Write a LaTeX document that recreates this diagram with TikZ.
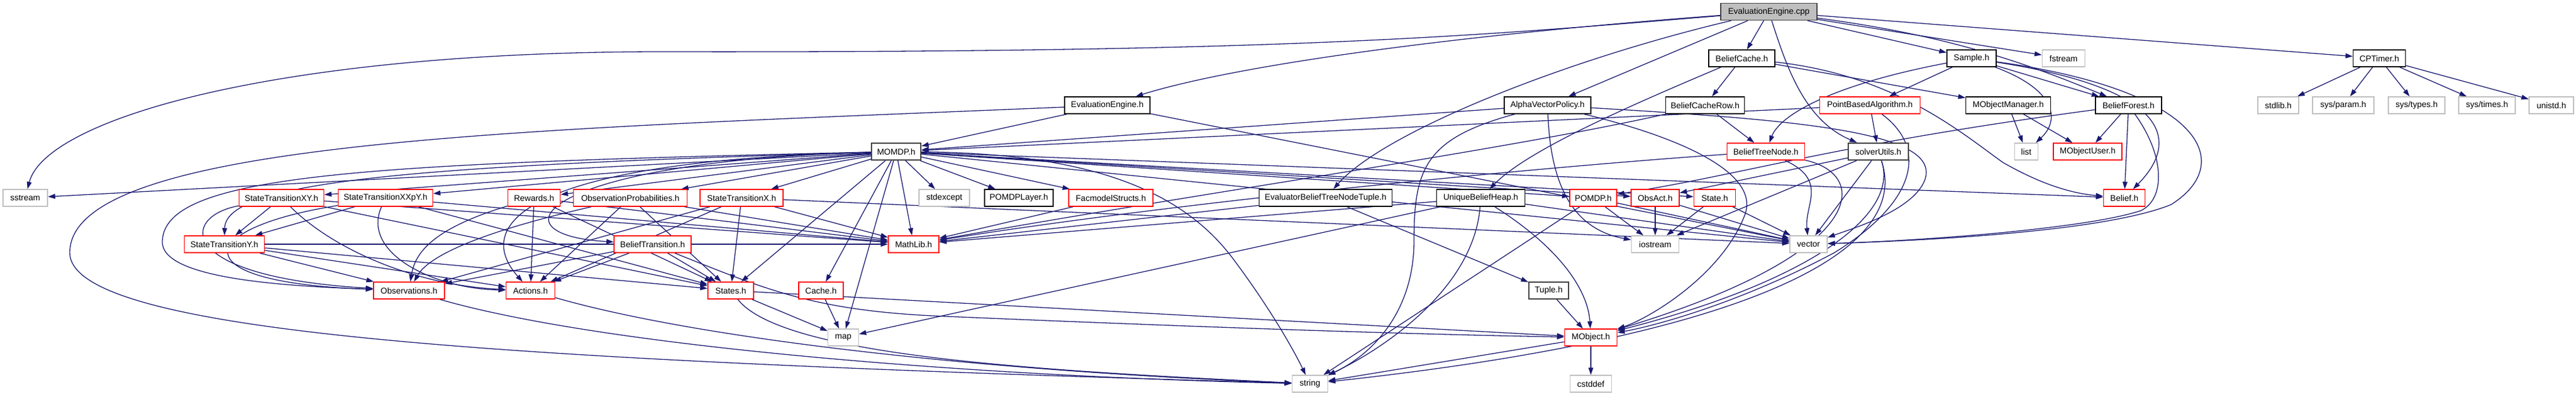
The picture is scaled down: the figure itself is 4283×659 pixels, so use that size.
\documentclass[tikz,border=0pt]{standalone}
\usepackage{fontspec}
\setmainfont{Liberation Sans}
\usetikzlibrary{arrows.meta,backgrounds}
\definecolor{edgec}{HTML}{191970}
\definecolor{sysg}{HTML}{BFBFBF}
\definecolor{darkb}{HTML}{404040}
\definecolor{redb}{HTML}{FF0000}
\begin{document}
\begin{tikzpicture}[x=1pt,y=-1pt,
  nd/.style={draw, rectangle, minimum height=28pt, inner sep=2pt, fill=white,
    font=\fontsize{14}{16}\selectfont, line width=1.5pt},
  blk/.style={nd, draw=black},
  tr/.style={nd, draw=redb},
  sysn/.style={nd, draw=sysg},
  dk/.style={nd, draw=darkb, line width=2.2pt},
  cur/.style={nd, draw=darkb, fill=sysg},
  ed/.style={draw=edgec, line width=1.3pt, -{Triangle[length=12pt,width=8pt]}}]
\useasboundingbox (0,0) rectangle (4283,659);
% row 0
\node[cur, minimum width=160pt] (cpp) at (2941,19.5) {EvaluationEngine.cpp};
% row 1
\node[blk, minimum width=110pt] (bcache) at (2896,97) {BeliefCache.h};
\node[blk, minimum width=82pt] (sample) at (3278,97) {Sample.h};
\node[sysn, minimum width=71pt] (fstream) at (3431,97) {fstream};
\node[blk, minimum width=87pt] (cptimer) at (3956,97) {CPTimer.h};
% row 2
\node[blk, minimum width=142pt] (eeh) at (1841,175) {EvaluationEngine.h};
\node[blk, minimum width=144pt] (avp) at (2573,175) {AlphaVectorPolicy.h};
\node[blk, minimum width=131pt] (bcr) at (2835,175) {BeliefCacheRow.h};
\node[tr, minimum width=167pt] (pba) at (3109,175) {PointBasedAlgorithm.h};
\node[blk, minimum width=141pt] (mom) at (3339,175) {MObjectManager.h};
\node[blk, minimum width=110pt] (bf) at (3539,175) {BeliefForest.h};
\node[sysn, minimum width=68pt] (stdlib) at (3788,175) {stdlib.h};
\node[sysn, minimum width=102pt] (sysparam) at (3896,175) {sys/param.h};
\node[sysn, minimum width=94pt] (systypes) at (4018,175) {sys/types.h};
\node[sysn, minimum width=94pt] (systimes) at (4135,175) {sys/times.h};
\node[sysn, minimum width=74pt] (unistd) at (4242,175) {unistd.h};
% row 3
\node[dk, minimum width=82pt] (momdp) at (1490,252) {MOMDP.h};
\node[tr, minimum width=129pt] (btn) at (2936,252) {BeliefTreeNode.h};
\node[dk, minimum width=100pt] (su) at (3123,252) {solverUtils.h};
\node[sysn, minimum width=39pt] (list) at (3369,252) {list};
\node[tr, minimum width=114pt] (mou) at (3471,252) {MObjectUser.h};
% row 4
\node[sysn, minimum width=74pt] (sstream) at (42,329) {sstream};
\node[tr, minimum width=141pt] (stxy) at (468,329) {StateTransitionXY.h};
\node[tr, minimum width=157pt] (stxxpy) at (641,329) {StateTransitionXXpY.h};
\node[tr, minimum width=87pt] (rewards) at (888,329) {Rewards.h};
\node[tr, minimum width=189pt] (obsprob) at (1048,329) {ObservationProbabilities.h};
\node[tr, minimum width=138pt] (stx) at (1233,329) {StateTransitionX.h};
\node[sysn, minimum width=84pt] (stdexcept) at (1570,329) {stdexcept};
\node[blk, minimum width=114pt] (pomdplayer) at (1694,329) {POMDPLayer.h};
\node[tr, minimum width=140pt] (facmodel) at (1847,329) {FacmodelStructs.h};
\node[blk, minimum width=221pt] (ebtnt) at (2204,329) {EvaluatorBeliefTreeNodeTuple.h};
\node[blk, minimum width=147pt] (ubh) at (2462,329) {UniqueBeliefHeap.h};
\node[tr, minimum width=78pt] (pomdp) at (2649,329) {POMDP.h};
\node[tr, minimum width=80pt] (obsact) at (2752,329) {ObsAct.h};
\node[tr, minimum width=69pt] (state) at (2851,329) {State.h};
\node[tr, minimum width=69pt] (belief) at (3532,329) {Belief.h};
% row 5
\node[tr, minimum width=133pt] (sty) at (373,406) {StateTransitionY.h};
\node[tr, minimum width=128pt] (bt) at (1085,406) {BeliefTransition.h};
\node[tr, minimum width=84pt] (mathlib) at (1519,406) {MathLib.h};
\node[sysn, minimum width=79pt] (iostream) at (2752,406) {iostream};
\node[sysn, minimum width=62pt] (vector) at (3007,406) {vector};
% row 6
\node[tr, minimum width=118pt] (observations) at (680,483) {Observations.h};
\node[tr, minimum width=81pt] (actions) at (882,483) {Actions.h};
\node[tr, minimum width=76pt] (states) at (1215,483) {States.h};
\node[tr, minimum width=74pt] (cache) at (1365,483) {Cache.h};
\node[dk, minimum width=66pt] (tuple) at (2575,483) {Tuple.h};
% row 7
\node[sysn, minimum width=51pt] (map) at (1402,561) {map};
\node[tr, minimum width=87pt] (mobject) at (2645,561) {MObject.h};
% row 8
\node[sysn, minimum width=59pt] (string) at (2178,638) {string};
\node[sysn, minimum width=69pt] (cstddef) at (2645,638) {cstddef};

\begin{scope}[on background layer]
% EvaluationEngine.cpp
\draw[ed] (cpp) .. controls (2450,60) and (2150,88) .. (1100,86) .. controls (450,86) and (75,200) .. (sstream);
\draw[ed] (cpp) .. controls (2400,60) and (2050,110) .. (eeh);
\draw[ed] (cpp) -- (avp);
\draw[ed] (cpp) -- (bcache);
\draw[ed] (cpp) .. controls (2970,110) and (3000,200) .. (su);
\draw[ed] (cpp) .. controls (2600,100) and (2300,220) .. (ebtnt);
\draw[ed] (cpp) -- (sample);
\draw[ed] (cpp) -- (fstream);
\draw[ed] (cpp) .. controls (3250,60) and (3380,110) .. (bf);
\draw[ed] (cpp) -- (cptimer);
% EvaluationEngine.h
\draw[ed] (eeh) -- (momdp);
\draw[ed] (eeh) .. controls (900,215) and (116,230) .. (116,420) .. controls (116,560) and (900,600) .. (string);
\draw[ed] (eeh) -- (vector);
% MOMDP.h
\draw[ed] (momdp) -- (sstream);
\draw[ed] (momdp) -- (stxy);
\draw[ed] (momdp) -- (stxxpy);
\draw[ed] (momdp) -- (rewards);
\draw[ed] (momdp) -- (obsprob);
\draw[ed] (momdp) -- (stx);
\draw[ed] (momdp) .. controls (700,275) and (375,300) .. (sty);
\draw[ed] (momdp) .. controls (600,272) and (275,290) .. (270,400) .. controls (265,460) and (450,475) .. (observations);
\draw[ed] (momdp) .. controls (850,268) and (790,380) .. (actions);
\draw[ed] (momdp) .. controls (900,268) and (810,390) .. (bt);
\draw[ed] (momdp) -- (states);
\draw[ed] (momdp) -- (cache);
\draw[ed] (momdp) -- (map);
\draw[ed] (momdp) -- (mathlib);
\draw[ed] (momdp) -- (stdexcept);
\draw[ed] (momdp) -- (pomdplayer);
\draw[ed] (momdp) -- (facmodel);
\draw[ed] (momdp) .. controls (1800,255) and (1960,310) .. (2050,430) .. controls (2110,510) and (2150,580) .. (string);
\draw[ed] (momdp) -- (pomdp);
\draw[ed] (momdp) -- (obsact);
\draw[ed] (momdp) -- (state);
\draw[ed] (momdp) -- (belief);
\draw[ed] (momdp) -- (vector);
% state transition etc.
\draw[ed] (stxy) -- (sty);
\draw[ed] (stxy) .. controls (300,360) and (290,460) .. (observations);
\draw[ed] (stxy) .. controls (560,420) and (700,475) .. (actions);
\draw[ed] (stxy) -- (states);
\draw[ed] (stxy) -- (mathlib);
\draw[ed] (stxxpy) -- (sty);
\draw[ed] (stxxpy) .. controls (320,380) and (300,470) .. (observations);
\draw[ed] (stxxpy) .. controls (600,420) and (720,480) .. (actions);
\draw[ed] (stxxpy) -- (states);
\draw[ed] (stxxpy) -- (mathlib);
\draw[ed] (rewards) .. controls (720,380) and (690,420) .. (observations);
\draw[ed] (rewards) -- (actions);
\draw[ed] (rewards) -- (states);
\draw[ed] (rewards) -- (mathlib);
\draw[ed] (obsprob) .. controls (780,390) and (710,430) .. (observations);
\draw[ed] (obsprob) -- (actions);
\draw[ed] (obsprob) -- (states);
\draw[ed] (obsprob) -- (mathlib);
\draw[ed] (stx) -- (observations);
\draw[ed] (stx) -- (actions);
\draw[ed] (stx) -- (states);
\draw[ed] (stx) -- (mathlib);
\draw[ed] (stx) -- (vector);
\draw[ed] (sty) -- (observations);
\draw[ed] (sty) -- (actions);
\draw[ed] (sty) -- (states);
\draw[ed] (sty) -- (mathlib);
\draw[ed] (bt) -- (observations);
\draw[ed] (bt) -- (actions);
\draw[ed] (bt) -- (states);
\draw[ed] (bt) .. controls (1270,480) and (1350,515) .. (1550,525) .. controls (1900,540) and (2300,555) .. (mobject);
\draw[ed] (states) -- (map);
\draw[ed] (states) .. controls (1300,590) and (1700,615) .. (string);
\draw[ed] (states) -- (mobject);
\draw[ed] (observations) .. controls (1000,575) and (1600,625) .. (string);
\draw[ed] (actions) .. controls (1150,560) and (1600,615) .. (string);
\draw[ed] (cache) -- (map);
\draw[ed] (facmodel) -- (mathlib);
% middle
\draw[ed] (ebtnt) -- (mathlib);
\draw[ed] (ebtnt) -- (tuple);
\draw[ed] (ubh) -- (mathlib);
\draw[ed] (ubh) -- (map);
\draw[ed] (ubh) .. controls (2450,480) and (2300,580) .. (string);
\draw[ed] (ubh) .. controls (2590,410) and (2640,480) .. (mobject);
\draw[ed] (ubh) -- (vector);
\draw[ed] (pomdp) -- (iostream);
\draw[ed] (pomdp) -- (vector);
\draw[ed] (pomdp) -- (string);
\draw[ed] (obsact) -- (iostream);
\draw[ed] (obsact) -- (vector);
\draw[ed] (state) -- (iostream);
\draw[ed] (state) -- (vector);
\draw[ed] (tuple) -- (mobject);
\draw[ed] (mobject) -- (string);
\draw[ed] (mobject) -- (cstddef);
% AlphaVectorPolicy
\draw[ed] (avp) -- (momdp);
\draw[ed] (avp) .. controls (2370,230) and (2351,280) .. (2351,400) .. controls (2351,520) and (2280,590) .. (string);
\draw[ed] (avp) .. controls (2578,300) and (2610,380) .. (iostream);
\draw[ed] (avp) .. controls (2800,230) and (2930,290) .. (2900,360) .. controls (2860,460) and (2740,530) .. (mobject);
\draw[ed] (avp) .. controls (3000,200) and (3230,220) .. (3200,300) .. controls (3180,350) and (3080,380) .. (vector);
% BeliefCache
\draw[ed] (bcache) -- (bcr);
\draw[ed] (bcache) .. controls (2700,180) and (2540,250) .. (ubh);
\draw[ed] (bcache) -- (mom);
\draw[ed] (bcache) .. controls (3150,125) and (3260,220) .. (3330,270) .. controls (3400,310) and (3450,322) .. (belief);
\draw[ed] (bcr) -- (btn);
\draw[ed] (bcr) .. controls (2500,250) and (2000,320) .. (mathlib);
% BeliefTreeNode, PBA, solverUtils
\draw[ed] (btn) .. controls (2600,275) and (2000,330) .. (mathlib);
\draw[ed] (btn) .. controls (3110,290) and (3110,420) .. (mobject);
\draw[ed] (btn) .. controls (3040,300) and (3000,340) .. (vector);
\draw[ed] (pba) -- (su);
\draw[ed] (pba) -- (momdp);
\draw[ed] (pba) .. controls (3210,250) and (3180,340) .. (3050,420) .. controls (2900,500) and (2760,540) .. (mobject);
\draw[ed] (su) -- (obsact);
\draw[ed] (su) -- (iostream);
\draw[ed] (su) -- (vector);
\draw[ed] (su) .. controls (3160,360) and (3000,470) .. (mobject);
\draw[ed] (su) .. controls (3180,420) and (2900,560) .. (string);
% Sample
\draw[ed] (sample) -- (pba);
\draw[ed] (sample) .. controls (3050,140) and (2960,190) .. (btn);
\draw[ed] (sample) -- (bf);
\draw[ed] (sample) .. controls (3420,150) and (3425,200) .. (list);
\draw[ed] (sample) .. controls (3620,150) and (3620,240) .. (belief);
\draw[ed] (sample) .. controls (3660,150) and (3720,270) .. (3610,340) .. controls (3500,385) and (3200,400) .. (vector);
% MObjectManager, BeliefForest
\draw[ed] (mom) -- (list);
\draw[ed] (mom) -- (mou);
\draw[ed] (bf) -- (mou);
\draw[ed] (bf) -- (belief);
\draw[ed] (bf) .. controls (3600,260) and (3600,330) .. (3560,350) .. controls (3470,380) and (3200,400) .. (vector);
\draw[ed] (bf) .. controls (3050,240) and (2900,290) .. (pomdp);
% CPTimer
\draw[ed] (cptimer) -- (stdlib);
\draw[ed] (cptimer) -- (sysparam);
\draw[ed] (cptimer) -- (systypes);
\draw[ed] (cptimer) -- (systimes);
\draw[ed] (cptimer) -- (unistd);
\end{scope}
\end{tikzpicture}
\end{document}
